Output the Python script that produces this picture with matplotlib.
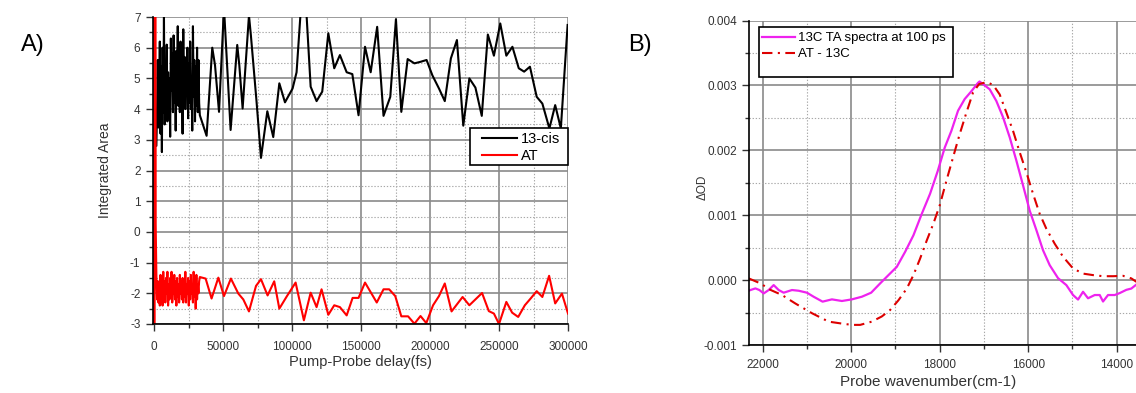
import numpy as np
import matplotlib
matplotlib.use("Agg")
import matplotlib.pyplot as plt
from matplotlib.ticker import MultipleLocator, FormatStrFormatter
from matplotlib.patches import Rectangle

plt.rcParams['font.family'] = ['Liberation Sans', 'DejaVu Sans']
plt.rcParams['axes.unicode_minus'] = False

# ---------------- Panel A: integrated area vs pump-probe delay ----------------
# around time zero
t_cis_early = [-900, -500, -100]
cis_early = [0.0, -0.5, 3.0]
t_at_early = [-800, -400, 0, 400, 1000]
at_early = [-40.0, 40.0, -40.0, 40.0, 0.25]

# densely sampled early delays (fs)
t_dense = np.arange(1500, 33001, 500)
cis_dense = [2.8, 4.0, 5.6, 3.4, 4.3, 6.2, 3.2, 5.4, 2.6, 6.0,
             3.9, 7.0, 3.5, 5.3, 4.4, 6.1, 3.6, 5.2, 4.0, 5.0,
             3.1, 6.3, 4.6, 5.8, 3.9, 6.4, 4.2, 5.4, 3.3, 5.9,
             4.5, 6.7, 4.1, 5.5, 3.9, 6.2, 4.8, 5.1, 3.2, 6.6,
             4.3, 5.7, 4.0, 5.2, 4.6, 6.0, 3.7, 5.5, 4.2, 6.2,
             4.0, 5.0, 3.3, 6.7, 4.4, 5.6, 3.6, 5.4, 4.1, 6.0,
             3.9, 5.6, 4.2, 3.8]
at_dense = [-1.4, -2.2, -1.6, -2.3, -1.7, -2.4, -1.4, -2.1, -1.8, -2.4,
            -1.3, -2.2, -1.6, -2.3, -1.5, -2.0, -1.3, -2.4, -1.7, -2.2,
            -1.5, -2.1, -1.3, -2.3, -1.8, -2.0, -1.4, -2.2, -1.6, -2.4,
            -1.5, -2.1, -1.7, -2.3, -1.4, -2.0, -1.8, -2.2, -1.5, -2.3,
            -1.6, -2.1, -1.3, -2.3, -1.7, -2.0, -1.5, -2.4, -1.6, -2.2,
            -1.4, -2.0, -1.8, -2.3, -1.3, -2.1, -1.6, -2.5, -1.4, -2.2,
            -1.7, -2.0, -1.6, -1.47]

# sparsely sampled later delays (fs)
t_cis_late = [37900, 42000, 44000, 46900, 50500, 55300, 60100, 61600, 64000, 68600,
              70000, 74100, 77300, 81900, 86200, 90600, 94700, 100200, 103100, 107000,
              109400, 113300, 117600, 121700, 126100, 130400, 134500, 139400, 143500, 148000,
              152700, 156800, 161500, 166100, 171000, 175100, 179000, 183600, 188500, 192900,
              197300, 201500, 206300, 210500, 214900, 219300, 223900, 228300, 232700, 237300,
              241700, 246100, 250700, 255100, 259500, 264100, 268000, 272200, 277100, 281200,
              286300, 290500, 294600, 299500]
cis_late = [3.13, 6.0, 5.43, 3.91, 7.3, 3.32, 6.09, 5.43, 4.02, 7.05,
            6.4, 4.24, 2.41, 3.93, 3.09, 4.84, 4.22, 4.67, 5.2, 7.8,
            7.8, 4.73, 4.26, 4.57, 6.47, 5.33, 5.76, 5.2, 5.14, 3.8,
            6.03, 5.2, 6.68, 3.78, 4.4, 6.93, 3.91, 5.63, 5.49, 5.54,
            5.6, 5.1, 4.67, 4.26, 5.65, 6.25, 3.46, 5.0, 4.7, 3.78,
            6.43, 5.74, 6.79, 5.74, 6.03, 5.33, 5.22, 5.38, 4.4, 4.18,
            3.37, 4.13, 3.37, 6.74]
t_at_late = [37200, 41500, 46400, 50500, 55500, 60900, 64500, 68600, 73700, 77300,
             82100, 86900, 90600, 96000, 102400, 108400, 113300, 117600, 121200, 126100,
             130400, 134500, 139400, 143700, 148000, 152700, 161200, 166100, 170200, 174600,
             179000, 183900, 188500, 192900, 197100, 202000, 206300, 210500, 215400, 223400,
             228300, 237500, 242400, 246100, 249800, 255100, 259300, 263700, 268500, 272700,
             277100, 281200, 286100, 290500, 295400, 299800]
at_late = [-1.52, -2.17, -1.49, -2.09, -1.52, -2.01, -2.2, -2.59, -1.76, -1.54,
           -2.07, -1.61, -2.5, -2.1, -1.65, -2.88, -1.98, -2.45, -1.87, -2.7,
           -2.39, -2.45, -2.72, -2.15, -2.15, -1.65, -2.3, -1.87, -1.87, -2.09,
           -2.75, -2.75, -2.99, -2.74, -2.97, -2.39, -2.09, -1.68, -2.59, -2.12,
           -2.39, -1.99, -2.58, -2.66, -3.0, -2.28, -2.63, -2.77, -2.39, -2.17,
           -1.93, -2.12, -1.43, -2.33, -2.01, -2.66]

# ---------------- Panel B: spectra vs probe wavenumber ----------------
wn_13c = [22300, 22278, 22165, 22075, 21977, 21865, 21752, 21639, 21526, 21338,
          21188, 21000, 20850, 20647, 20436, 20210, 19985, 19759, 19549, 19346,
          19158, 18970, 18782, 18594, 18406, 18218, 18045, 17887, 17736, 17586,
          17435, 17284, 17134, 17100, 17021, 16870, 16720, 16569, 16418, 16267,
          16117, 15966, 15815, 15665, 15514, 15326, 15138, 14987, 14874, 14761,
          14648, 14497, 14384, 14309, 14196, 14045, 13932, 13782, 13669, 13571]
od_13c = [-0.00016, -0.000153, -0.000128, -0.000153, -0.000205, -0.000153, -0.000077, -0.000153, -0.000194, -0.000153,
          -0.000164, -0.000194, -0.000256, -0.000332, -0.000297, -0.000322, -0.000297, -0.000256, -0.000194, -0.000051,
          0.000077, 0.000204, 0.000435, 0.00069, 0.00102, 0.00133, 0.00168, 0.00204, 0.0023, 0.00261,
          0.00279, 0.00291, 0.00304, 0.00306, 0.00302, 0.00294, 0.00276, 0.00251, 0.0022, 0.00184,
          0.00146, 0.00107, 0.00077, 0.00046, 0.00023, 0.00003, -0.000077, -0.00023, -0.0003, -0.00018,
          -0.00028, -0.00023, -0.00023, -0.00033, -0.00023, -0.00023, -0.0002, -0.00015, -0.00013, -0.000077]

wn_diff = [22316, 22053, 21827, 21564, 21263, 20887, 20511, 20210, 19985, 19797,
           19534, 19308, 19120, 18932, 18744, 18594, 18444, 18293, 18143, 18000,
           17849, 17699, 17548, 17397, 17247, 17111, 16945, 16795, 16644, 16493,
           16343, 16192, 16041, 15891, 15740, 15589, 15401, 15213, 14987, 14761,
           14535, 14309, 14083, 13857, 13669, 13556]
od_diff = [0.000026, -0.00005, -0.00015, -0.00023, -0.00036, -0.00051, -0.00064, -0.00067, -0.00069, -0.00069,
           -0.00064, -0.00056, -0.00046, -0.00031, -0.00013, 0.000077, 0.00033, 0.00061, 0.00087, 0.00115,
           0.00153, 0.00189, 0.00225, 0.00258, 0.00289, 0.00302, 0.00305, 0.00301, 0.00286, 0.00258,
           0.0023, 0.00197, 0.00166, 0.00133, 0.00102, 0.00079, 0.00056, 0.00036, 0.00018, 0.0001,
           0.000077, 0.00006, 0.00006, 0.000066, 0.000026, -0.000026]

W, H = 1136, 393
fig = plt.figure(figsize=(W / 100, H / 100), dpi=100)

MAJOR_GRID = dict(color='#8a8a8a', linewidth=1.2, linestyle='-')
MINOR_GRID = dict(color='#a8a8a8', linewidth=0.8, linestyle=(0, (1.2, 1.6)))


def fx(px):
    return px / W


def fy(py):
    return 1 - py / H


def style_axes(ax):
    ax.set_axisbelow(True)
    ax.grid(True, which='major', **MAJOR_GRID)
    ax.grid(True, which='minor', **MINOR_GRID)
    for side in ('top', 'right'):
        ax.spines[side].set_visible(False)
    for side in ('left', 'bottom'):
        ax.spines[side].set_color('black')
        ax.spines[side].set_linewidth(1.2)
    ax.tick_params(which='major', direction='out', length=5, width=1, labelsize=8.5,
                   colors='#333333', pad=4)
    ax.tick_params(which='minor', direction='out', length=3, width=1, colors='#333333')


def legend_box(ax, x0, y0, x1, y1):
    # white framed box behind a frameless legend, placed in pixel coordinates
    rect = Rectangle((fx(x0), fy(y1)), fx(x1) - fx(x0), fy(y0) - fy(y1),
                     transform=fig.transFigure, facecolor='white', edgecolor='black',
                     linewidth=1.2, zorder=4, clip_on=False)
    ax.add_patch(rect)


# ---- panel A ----
axA = fig.add_axes([fx(153), fy(324), fx(568.3) - fx(153), fy(17) - fy(324)])
t_cis = list(t_cis_early) + list(t_dense) + list(t_cis_late)
y_cis = list(cis_early) + list(cis_dense) + list(cis_late)
t_at = list(t_at_early) + list(t_dense) + list(t_at_late)
y_at = list(at_early) + list(at_dense) + list(at_late)
l_cis, = axA.plot(t_cis, y_cis, color='black', lw=1.5, label='13-cis')
l_at, = axA.plot(t_at, y_at, color='#ff0000', lw=1.5, label='AT')
axA.set_xlim(-940, 300000)
axA.set_ylim(-3, 7)
axA.xaxis.set_major_locator(MultipleLocator(50000))
axA.xaxis.set_minor_locator(MultipleLocator(25000))
axA.yaxis.set_major_locator(MultipleLocator(1))
axA.yaxis.set_minor_locator(MultipleLocator(0.5))
style_axes(axA)
axA.tick_params(axis='x', pad=7)
legend_box(axA, 470, 128, 568, 165)
legA = axA.legend(handles=[l_cis, l_at], loc='upper left',
                  bbox_to_anchor=(fx(482), fy(132)), bbox_transform=fig.transFigure,
                  borderaxespad=0, borderpad=0, fontsize=10.5, frameon=False,
                  handlelength=2.4, labelspacing=0.2, handletextpad=0.25)
legA.set_zorder(6)

fig.text(fx(105), fy(170), 'Integrated Area', rotation=90, ha='center', va='center',
         fontsize=10, color='#333333')
fig.text(fx(360), fy(362), 'Pump-Probe delay(fs)', ha='center', va='center',
         fontsize=10.5, color='#333333')
fig.text(fx(33), fy(45), 'A)', ha='center', va='center', fontsize=17, color='black')

# ---- panel B ----
axB = fig.add_axes([fx(749.3), fy(345), 1 - fx(749.3), fy(20.5) - fy(345)])
l_13c, = axB.plot(wn_13c, od_13c, color='#ee22ee', lw=1.6,
                  label='13C TA spectra at 100 ps')
l_diff, = axB.plot(wn_diff, od_diff, color='#dd0000', lw=1.5,
                   dashes=(5, 2.6, 1, 2.6), label='AT - 13C')
axB.set_xlim(22303, 13564)
axB.set_ylim(-0.001, 0.004)
axB.xaxis.set_major_locator(MultipleLocator(2000))
axB.xaxis.set_minor_locator(MultipleLocator(1000))
axB.yaxis.set_major_locator(MultipleLocator(0.001))
axB.yaxis.set_minor_locator(MultipleLocator(0.0005))
axB.yaxis.set_major_formatter(FormatStrFormatter('%.3f'))
style_axes(axB)
axB.tick_params(axis='x', pad=5)
legend_box(axB, 759, 27, 953, 77)
legB = axB.legend(handles=[l_13c, l_diff], loc='upper left',
                  bbox_to_anchor=(fx(762), fy(32)), bbox_transform=fig.transFigure,
                  borderaxespad=0, borderpad=0, fontsize=9.5, frameon=False,
                  handlelength=2.5, labelspacing=0.3, handletextpad=0.25)
legB.set_zorder(6)

fig.text(fx(703), fy(187), 'ΔOD', rotation=90, ha='center', va='center',
         fontsize=8.5, color='#333333')
fig.text(fx(928), fy(382), 'Probe wavenumber(cm-1)', ha='center', va='center',
         fontsize=11, color='#333333')
fig.text(fx(640), fy(45), 'B)', ha='center', va='center', fontsize=17, color='black')

fig.savefig('out.png', dpi=100)
